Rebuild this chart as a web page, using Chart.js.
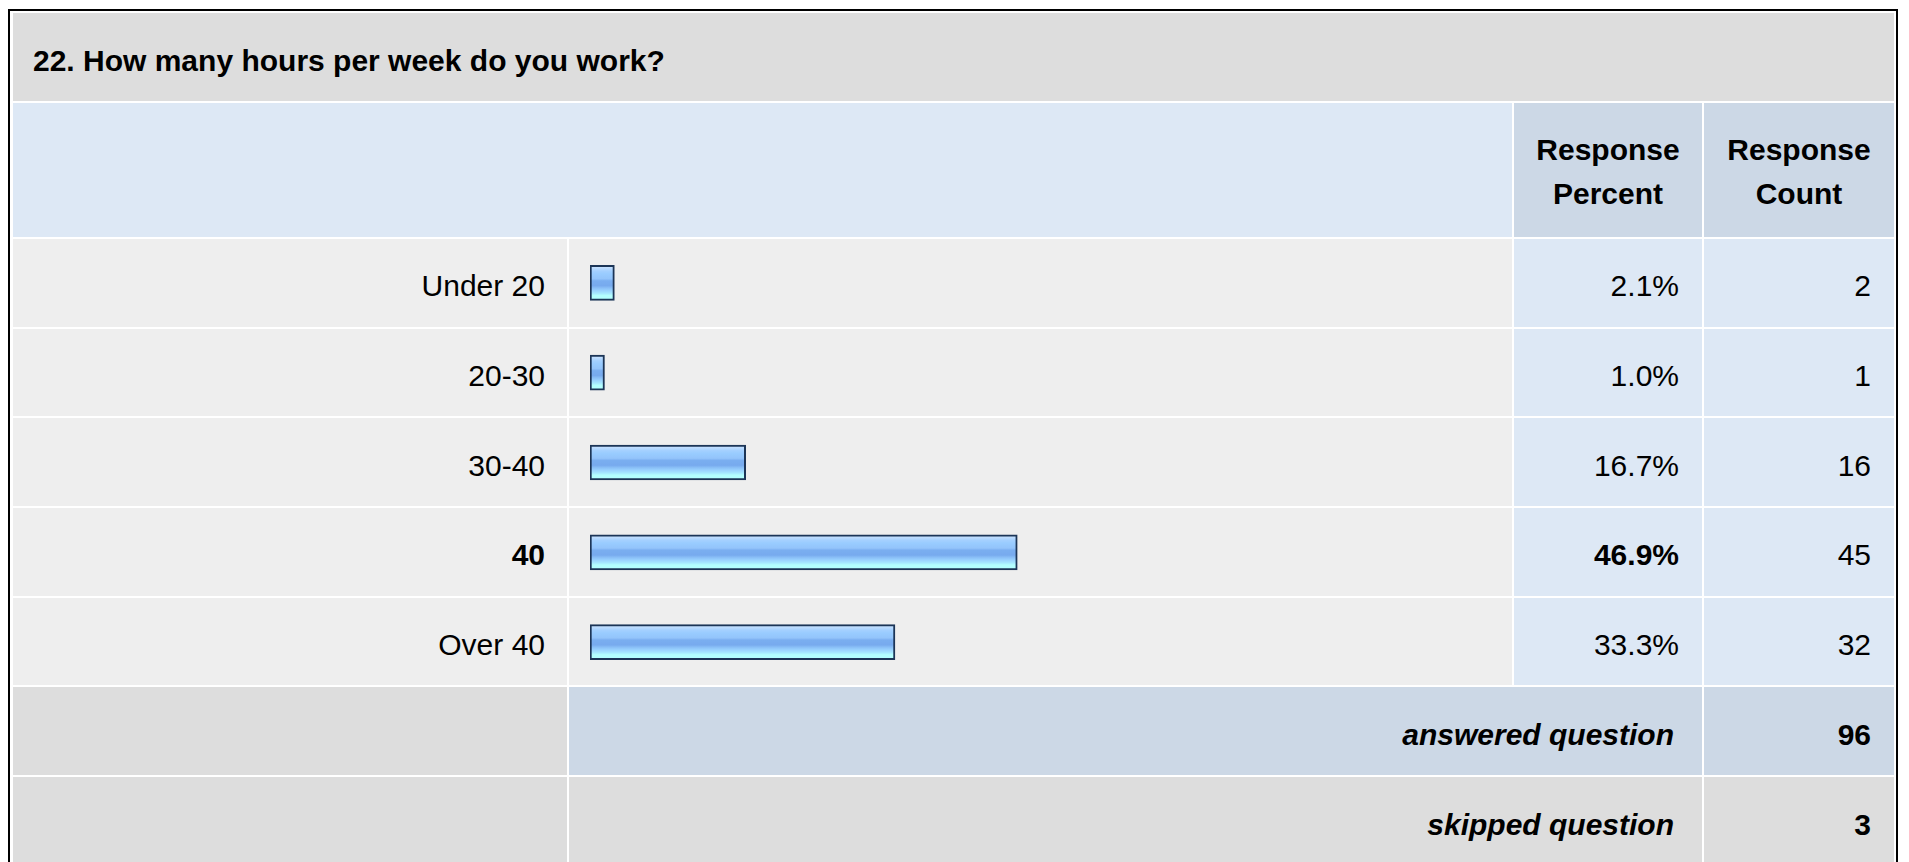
<!DOCTYPE html>
<html>
<head>
<meta charset="utf-8">
<title>How many hours per week do you work?</title>
<script src="https://cdn.jsdelivr.net/npm/chart.js@4.4.1/dist/chart.umd.min.js"></script>
<style>
    html, body { margin: 0; padding: 0; background: #fff; overflow: hidden; }
    body { width: 1909px; height: 862px; position: relative; font-family: "Liberation Sans", Arial, sans-serif; color: #000; }

    #frame {
        position: absolute; left: 8px; top: 9px; width: 1890px; box-sizing: border-box;
        border: 2px solid #000; border-bottom: none;
        padding: 2px 2px 0 3px; background: #fff;
    }
    #grid {
        display: grid;
        grid-template-columns: 554px 943px 188px 190px;
        grid-template-rows: 88px 134px repeat(5, 87.7px) 87.5px 90px;
        gap: 2px;
    }
    .cell { display: flex; align-items: center; font-size: 30px; box-sizing: border-box; }
    .title { grid-column: 1 / 5; background: #dddddd; font-size: 30px; font-weight: bold; padding: 8px 0 0 20px; }
    .head-blank { grid-column: 1 / 3; background: #dde8f5; }
    .head { background: #ccd8e6; justify-content: center; text-align: center; font-weight: bold; line-height: 44px; padding-top: 4px; }
    .label { background: #eeeeee; justify-content: flex-end; padding: 7px 22px 0 0; }
    .bar-cell { background: #eeeeee; }
    .num { background: #dde8f5; justify-content: flex-end; padding: 7px 23px 0 0; }
    .strong { font-weight: bold; }
    .sum-blank { background: #dddddd; }
    .sum-text { grid-column: 2 / 4; justify-content: flex-end; font-weight: bold; font-style: italic; padding: 7px 28px 0 0; }
    .sum-count { justify-content: flex-end; font-weight: bold; padding: 7px 23px 0 0; }
    .answered { background: #ccd8e6; }
    .skipped { background: #dddddd; }

    #barWrap { position: absolute; left: 569px; top: 238px; width: 943px; height: 449px; }
</style>
</head>
<body>
<div id="frame">
    <div id="grid"></div>
</div>
<div id="barWrap"><canvas id="barChart"></canvas></div>

<script>
const questionTitle = '22. How many hours per week do you work?';
const answerChoices = ['Under 20', '20-30', '30-40', '40', 'Over 40'];
const responsePercent = [2.1, 1.0, 16.7, 46.9, 33.3];
const responseCount = [2, 1, 16, 45, 32];
const answeredCount = 96;
const skippedCount = 3;

// bars start a hair left of zero so the outline sits clear of the value
const BAR_BASE = -0.61;

document.addEventListener('DOMContentLoaded', () => {
    const grid = document.getElementById('grid');
    const top = Math.max(...responsePercent);

    let html = `
        <div class="cell title">${questionTitle}</div>
        <div class="cell head-blank"></div>
        <div class="cell head">Response<br>Percent</div>
        <div class="cell head">Response<br>Count</div>
    `;

    html += answerChoices.map((name, i) => {
        const bold = responsePercent[i] === top ? ' strong' : '';
        return `
            <div class="cell label${bold}">${name}</div>
            <div class="cell bar-cell"></div>
            <div class="cell num${bold}">${responsePercent[i].toFixed(1)}%</div>
            <div class="cell num">${responseCount[i]}</div>
        `;
    }).join('');

    html += `
        <div class="cell sum-blank"></div>
        <div class="cell sum-text answered">answered question</div>
        <div class="cell sum-count answered">${answeredCount}</div>
        <div class="cell sum-blank"></div>
        <div class="cell sum-text skipped">skipped question</div>
        <div class="cell sum-count skipped">${skippedCount}</div>
    `;
    grid.innerHTML = html;

    initChart();
});

// glossy banded fill, built per bar from its row position
function barFill(context) {
    const chart = context.chart;
    if (!chart.chartArea) return '#99ccff';
    const y = chart.scales.y.getPixelForValue(context.dataIndex);
    const h = 35;
    const g = chart.ctx.createLinearGradient(0, y - h / 2, 0, y + h / 2);
    g.addColorStop(0.00, '#d2e8ff');
    g.addColorStop(0.08, '#bcdcff');
    g.addColorStop(0.16, '#a4d0ff');
    g.addColorStop(0.24, '#99ccff');
    g.addColorStop(0.38, '#93c4fb');
    g.addColorStop(0.44, '#7aaef0');
    g.addColorStop(0.58, '#77aaee');
    g.addColorStop(0.64, '#88bdf6');
    g.addColorStop(0.72, '#99d2ff');
    g.addColorStop(0.80, '#a6e8ff');
    g.addColorStop(0.86, '#b3ffff');
    g.addColorStop(1.00, '#b3ffff');
    return g;
}

function initChart() {
    const ctx = document.getElementById('barChart').getContext('2d');
    new Chart(ctx, {
        type: 'bar',
        data: {
            labels: answerChoices,
            datasets: [{
                label: 'Response Percent',
                data: responsePercent,
                base: BAR_BASE,
                backgroundColor: barFill,
                borderColor: '#1c3557',
                borderWidth: 2,
                borderSkipped: false,
                barThickness: 35
            }]
        },
        options: {
            indexAxis: 'y',
            responsive: true,
            maintainAspectRatio: false,
            animation: false,
            layout: { padding: { left: 21, right: 17.2, top: 0, bottom: 0 } },
            plugins: { legend: { display: false }, tooltip: { enabled: false } },
            scales: {
                x: { type: 'linear', min: BAR_BASE, max: 100, display: false },
                y: { display: false, grid: { display: false } }
            }
        }
    });
}
</script>
</body>
</html>
